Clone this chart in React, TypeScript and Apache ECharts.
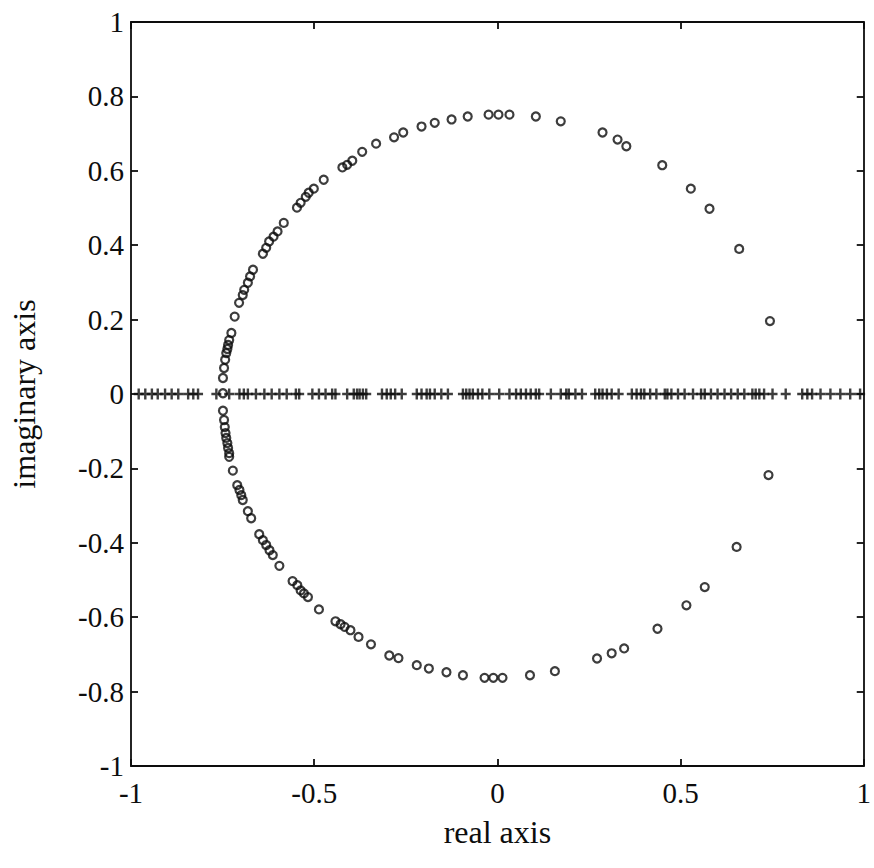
import React, { useEffect, useRef } from "react";
import * as echarts from "echarts";

// Eigenvalues in the upper half plane (real part, imaginary part)
const upperRe = [-0.749, -0.749, -0.746, -0.743, -0.740, -0.737, -0.735, -0.732, -0.726, -0.717, -0.705, -0.695, -0.691, -0.681, -0.675, -0.667, -0.640, -0.631, -0.623, -0.611, -0.600, -0.583, -0.547, -0.537, -0.523, -0.515, -0.501, -0.474, -0.423, -0.410, -0.396, -0.369, -0.331, -0.282, -0.257, -0.207, -0.171, -0.125, -0.081, -0.024, 0.003, 0.033, 0.105, 0.173, 0.287, 0.328, 0.352, 0.450, 0.528, 0.579, 0.660, 0.744];
const upperIm = [0.002, 0.043, 0.070, 0.092, 0.110, 0.121, 0.132, 0.145, 0.164, 0.208, 0.245, 0.266, 0.280, 0.299, 0.316, 0.334, 0.377, 0.393, 0.410, 0.423, 0.437, 0.460, 0.501, 0.514, 0.530, 0.541, 0.552, 0.576, 0.609, 0.616, 0.627, 0.651, 0.673, 0.690, 0.703, 0.719, 0.729, 0.738, 0.746, 0.751, 0.751, 0.751, 0.746, 0.733, 0.703, 0.684, 0.666, 0.615, 0.552, 0.498, 0.390, 0.196];

// Eigenvalues in the lower half plane
const lowerRe = [-0.749, -0.746, -0.744, -0.742, -0.740, -0.737, -0.735, -0.732, -0.732, -0.722, -0.710, -0.704, -0.699, -0.695, -0.681, -0.672, -0.650, -0.640, -0.631, -0.622, -0.613, -0.595, -0.559, -0.546, -0.537, -0.528, -0.517, -0.487, -0.442, -0.428, -0.417, -0.401, -0.379, -0.345, -0.295, -0.270, -0.220, -0.187, -0.139, -0.094, -0.035, -0.011, 0.014, 0.089, 0.157, 0.272, 0.312, 0.346, 0.437, 0.516, 0.566, 0.653, 0.740];
const lowerIm = [-0.045, -0.070, -0.089, -0.105, -0.118, -0.132, -0.145, -0.159, -0.169, -0.206, -0.245, -0.258, -0.272, -0.285, -0.315, -0.334, -0.377, -0.393, -0.406, -0.420, -0.433, -0.462, -0.503, -0.514, -0.528, -0.536, -0.546, -0.579, -0.611, -0.619, -0.626, -0.635, -0.653, -0.673, -0.703, -0.710, -0.729, -0.738, -0.748, -0.756, -0.763, -0.763, -0.763, -0.756, -0.745, -0.711, -0.697, -0.684, -0.631, -0.568, -0.519, -0.411, -0.218];

// Markers on the real axis ("+")
const plusRe = [-0.979, -0.961, -0.943, -0.927, -0.907, -0.889, -0.871, -0.844, -0.830, -0.817, -0.767, -0.732, -0.704, -0.692, -0.681, -0.659, -0.636, -0.616, -0.595, -0.575, -0.550, -0.541, -0.505, -0.487, -0.469, -0.451, -0.442, -0.410, -0.392, -0.383, -0.376, -0.367, -0.358, -0.315, -0.302, -0.291, -0.279, -0.261, -0.220, -0.207, -0.193, -0.184, -0.171, -0.153, -0.135, -0.094, -0.085, -0.076, -0.067, -0.053, -0.041, -0.022, 0.005, 0.033, 0.051, 0.064, 0.078, 0.091, 0.105, 0.114, 0.146, 0.173, 0.188, 0.195, 0.213, 0.231, 0.267, 0.278, 0.287, 0.299, 0.312, 0.331, 0.367, 0.380, 0.392, 0.401, 0.417, 0.434, 0.457, 0.464, 0.475, 0.493, 0.511, 0.534, 0.556, 0.566, 0.583, 0.601, 0.620, 0.638, 0.656, 0.674, 0.696, 0.705, 0.715, 0.728, 0.751, 0.787, 0.832, 0.846, 0.859, 0.882, 0.909, 0.936, 0.963, 0.990];

const xTicks = [-1, -0.5, 0, 0.5, 1];
const yTicks = [-1, -0.8, -0.6, -0.4, -0.2, 0, 0.2, 0.4, 0.6, 0.8, 1];

const FONT = "'Liberation Serif', 'DejaVu Serif', serif";
const INK = "#0d0d0d";

export default function App() {
  const ref = useRef<HTMLDivElement>(null);
  useEffect(() => {
    document.body.style.margin = "0";
    const chart = echarts.init(ref.current!, null, { renderer: "svg" });
    const circles = upperRe
      .map((r, i) => [r, upperIm[i]])
      .concat(lowerRe.map((r, i) => [r, lowerIm[i]]));
    const pluses = plusRe.map((r) => [r, 0]);
    const lineStyle = { color: INK, width: 1.8 };
    const axisBase = {
      type: "value" as const,
      min: -1,
      max: 1,
      axisLine: { show: true, onZero: false, lineStyle },
      axisTick: { show: true, inside: true, length: 7, lineStyle },
      splitLine: { show: false },
    };
    const labelStyle = { fontFamily: FONT, fontSize: 29, color: INK };
    const nameStyle = { fontFamily: FONT, fontSize: 32, color: INK };
    chart.setOption({
      animation: false,
      backgroundColor: "#fff",
      grid: { left: 129, right: 3, top: 22, bottom: 102, containLabel: false },
      xAxis: [
        {
          ...axisBase,
          interval: 0.5,
          position: "bottom",
          axisLabel: {
            ...labelStyle,
            margin: 12,
            formatter: (v: number) => String(xTicks.find((t) => Math.abs(t - v) < 1e-6) ?? v),
          },
          name: "real axis",
          nameLocation: "middle",
          nameGap: 50,
          nameTextStyle: nameStyle,
        },
        {
          ...axisBase,
          interval: 0.5,
          position: "top",
          axisLabel: { show: false },
        },
      ],
      yAxis: [
        {
          ...axisBase,
          interval: 0.2,
          position: "left",
          axisLabel: {
            ...labelStyle,
            margin: 7,
            formatter: (v: number) => String(yTicks.find((t) => Math.abs(t - v) < 1e-6) ?? v),
          },
          name: "imaginary axis",
          nameLocation: "middle",
          nameRotate: 90,
          nameGap: 91,
          nameTextStyle: nameStyle,
        },
        {
          ...axisBase,
          interval: 0.2,
          position: "right",
          axisLabel: { show: false },
        },
      ],
      series: [
        {
          type: "scatter",
          xAxisIndex: 0,
          yAxisIndex: 0,
          data: pluses,
          symbol: "path://M3.8,0H6.2V3.8H10V6.2H6.2V10H3.8V6.2H0V3.8H3.8Z",
          symbolSize: [10, 11],
          itemStyle: { color: INK },
          z: 2,
        },
        {
          type: "scatter",
          xAxisIndex: 0,
          yAxisIndex: 0,
          data: circles,
          symbol: "circle",
          symbolSize: 8,
          itemStyle: { color: "rgba(0,0,0,0)", borderColor: INK, borderWidth: 2.2 },
          z: 3,
        },
      ],
    });
    return () => chart.dispose();
  }, []);
  return <div ref={ref} style={{ width: 874, height: 868, background: "#fff" }} />;
}
